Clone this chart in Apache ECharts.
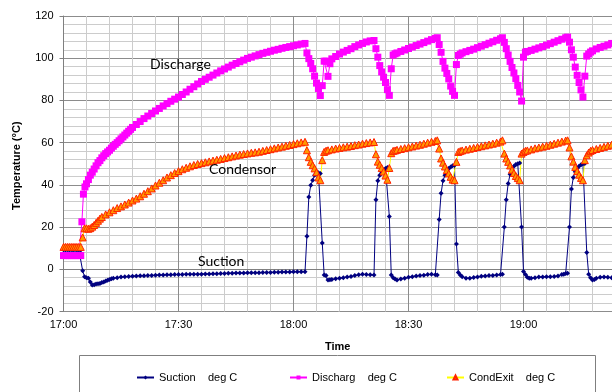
<!DOCTYPE html>
<html>
	<head>
		<meta charset="UTF-8" />
		<title>Compressor temperatures</title>
		<style>
			html, body { margin: 0; padding: 0; background: #fff; }
			#chart { width: 612px; height: 392px; }
		</style>
	</head>
	<body>
		<div id="chart"></div>
		<script type="text/javascript" src="https://cdn.jsdelivr.net/npm/echarts@6/dist/echarts.min.js"></script>
		<script type="text/javascript">
			// time in minutes after 17:00, temperature in deg C
			const suction = [
				[0,9.2],[0.5,9.1],[1,9.2],[1.5,9.1],[2,9.2],[2.5,9.1],[3,9.2],[3.5,9.1],[4,9.2],[4.5,9.1],
				[5,-0.7],[5.5,-3.5],[6,-4],[6.5,-4.3],[7,-6],[7.5,-7.5],[8,-7.3],[8.5,-7],[9,-6.9],[9.5,-6.7],[10,-6.3],[10.5,-6],[11,-5.6],[11.5,-5.2],[12,-4.8],[12.5,-4.5],[13,-4.3],[14,-4],[15,-3.7],[16,-3.5],[17,-3.4],[18,-3.3],[19,-3.2],[20,-3.1],[21,-3.1],[22,-2.9],[23,-2.9],[24,-2.8],[25,-2.7],[26,-2.7],[27,-2.6],[28,-2.6],[29,-2.5],[30,-2.5],[31,-2.5],[32,-2.4],[33,-2.4],[34,-2.4],[35,-2.3],[36,-2.3],[37,-2.2],[38,-2.2],[39,-2.1],[40,-2.1],[41,-2],[42,-2],[43,-1.9],[44,-1.9],[45,-1.8],[46,-1.8],[47,-1.8],[48,-1.7],[49,-1.7],[50,-1.6],[51,-1.6],[52,-1.5],[53,-1.5],[54,-1.5],[55,-1.4],[56,-1.4],[57,-1.3],[58,-1.3],[59,-1.3],[60,-1.2],[61,-1.2],[62,-1.2],[63,-1.2],
				[63.5,15.7],[64,34.3],[64.5,39.8],[65,42.2],[65.5,44.6],[66,45.2],[66.5,45.7],[67,45.4],[67.5,12.5],[68,-2.7],[68.5,-3],[69,-5.1],[69.5,-5],[70,-4.8],[71,-4.5],[72,-4.2],[73,-4],[74,-3.6],[75,-3.4],[76,-3],[77,-2.6],[78,-2.4],[79,-2.5],[80,-2.6],[81,-2.7],
				[81.5,33],[82,42],[82.5,44.5],[83,46.1],[83.5,47],[84,47.7],[84.5,48.2],[85,25],[85.5,-2.7],[86,-4],[86.5,-4.6],[87,-5.1],[88,-4.6],[89,-4.2],[90,-3.8],[91,-3.5],[92,-3.2],[93,-3],[94,-2.8],[95,-2.5],[96,-2.4],[97,-2.6],[97.5,-2.7],
				[98,23.6],[98.5,36],[99,42],[99.5,44.5],[100,46.9],[100.5,47.8],[101,48.5],[101.5,49],[102,49.3],[102.5,12],[103,-1.5],[103.5,-2.7],[104,-3.5],[105,-4.3],[106,-4.2],[107,-3.9],[108,-3.6],[109,-3.3],[110,-3.2],[111,-3],[112,-2.9],[113,-2.7],[114,-2.5],[114.5,-2.4],
				[115,20],[115.5,33],[116,40.6],[116.5,45],[117,47.5],[117.5,48.8],[118,49.6],[118.5,50],[119,50.4],[119.5,20],[120,-1],[120.5,-2.5],[121,-3.8],[121.5,-4.3],[122,-4.3],[123,-4],[124,-3.7],[125,-3.6],[126,-3.5],[127,-3.5],[128,-3.4],[129,-3.2],[130,-2.5],[130.5,-2.3],[131,-2],[131.5,-1.9],
				[132,20],[132.5,38],[133,43.5],[133.5,46.2],[134,47.8],[134.5,48.8],[135,49.5],[135.5,50],[136,50.1],[136.5,8],[137,-2.3],[137.5,-4],[138,-5.1],[138.5,-4.8],[139,-4.3],[140,-3.8],[141,-3.6],[142,-3.8],[143,-4],[144,-4],[145,-4]
			];
			const discharge = [
				[0,6.5],[0.5,6.5],[1,6.5],[1.5,6.5],[2,6.5],[2.5,6.5],[3,6.5],[3.5,6.5],[4,6.5],[4.5,6.5],
				[4.8,22.5],[5.2,35.6],[5.6,39],[6,40.5],[6.5,42.5],[7,44.6],[7.5,46],[8,47.5],[8.5,49],[9,50.5],[9.5,51.5],[10,52.8],[10.5,53.8],[11,54.8],[11.5,55.6],[12,56.4],[12.5,57.4],[13,58.3],[13.5,59.2],[14,60],[14.5,60.9],[15,61.8],[15.5,62.7],[16,63.6],[16.5,64.5],[17,65.4],[17.5,66.3],[18,67.2],[19,68.6],[20,70],[21,71.4],[22,72.6],[23,73.8],[24,75],[25,76.2],[26,77.4],[27,78.5],[28,79.6],[29,80.6],[30,81.6],[31,82.8],[32,84],[33,85.3],[34,86.5],[35,87.8],[36,89],[37,90],[38,91],[39,92],[40,93],[41,94],[42,94.9],[43,95.8],[44,96.7],[45,97.5],[46,98.3],[47,99.1],[48,99.9],[49,100.5],[50,101.1],[51,101.7],[52,102.3],[53,102.8],[54,103.3],[55,103.8],[56,104.2],[57,104.7],[58,105.1],[59,105.5],[60,105.9],[61,106.3],[62,106.7],[63,107],
				[63.5,102.5],[64,99.8],[64.5,97.5],[65,95],[65.5,91.5],[66,88.2],[66.5,85.6],[67,82.3],[67.5,87],[68,98.6],[68.5,98.6],[69,91.4],[69.5,97.4],[70,99.7],[71,100.8],[72,102],[73,102.9],[74,103.7],[75,104.5],[76,105.5],[77,106.3],[78,107],[79,107.7],[80,108.2],[81,108.4],
				[81.5,104.5],[82,100.5],[82.5,96.5],[83,93.5],[83.5,91],[84,88.5],[84.5,85.1],[85,82.4],[85.5,95],[86,101.5],[86.5,102.1],[87,102.5],[88,103.2],[89,103.9],[90,104.6],[91,105.3],[92,106],[93,106.7],[94,107.4],[95,108.1],[96,108.8],[97,109.4],[97.5,109.7],
				[98,106.5],[98.5,102.8],[99,98.5],[99.5,95.3],[100,92.8],[100.5,90.2],[101,86.8],[101.5,84.3],[102,82.4],[102.5,97],[103,101.3],[103.5,101.9],[104,102.5],[105,103.1],[106,103.7],[107,104.3],[108,105],[109,105.7],[110,106.4],[111,107.1],[112,107.8],[113,108.5],[114,109.2],[114.5,109.7],
				[115,107.5],[115.5,104.5],[116,101.5],[116.5,98.5],[117,95.6],[117.5,93],[118,90.3],[118.5,87.1],[119,84],[119.5,79.7],[120,100.5],[120.5,102.9],[121,103.2],[122,103.7],[123,104.3],[124,104.9],[125,105.5],[126,106.2],[127,106.9],[128,107.6],[129,108.3],[130,109],[131,109.7],[131.5,110],
				[132,107.6],[132.5,104],[133,100.5],[133.5,95.8],[134,91.9],[134.5,88.5],[135,85],[135.5,81.6],[136,91.5],[136.5,101],[137,102],[137.5,102.9],[138,103.5],[139,104.4],[140,105.1],[141,105.7],[142,106.3],[143,107],[144,107.5],[145,108]
			];
			const condExit = [
				[0,10.6],[0.5,10.6],[1,10.6],[1.5,10.6],[2,10.6],[2.5,10.6],[3,10.6],[3.5,10.6],[4,10.6],[4.5,10.6],
				[5,15.1],[5.5,19.4],[6,19.4],[6.5,19.2],[7,19.5],[7.5,20.2],[8,21],[8.5,22],[9,23],[9.5,24],[10,24.8],[11,26],[12,27],[13,28],[14,29],[15,29.8],[16,30.7],[17,31.6],[18,32.6],[19,33.5],[20,34.6],[21,35.8],[22,37],[23,38.3],[24,39.7],[25,41],[26,42.2],[27,43.5],[28,44.6],[29,45.6],[30,46.5],[31,47.4],[32,48.1],[33,48.8],[34,49.4],[35,49.9],[36,50.3],[37,50.7],[38,51.1],[39,51.5],[40,51.9],[41,52.3],[42,52.7],[43,53.1],[44,53.5],[45,53.9],[46,54.3],[47,54.6],[48,54.9],[49,55.2],[50,55.4],[51,55.7],[52,56.1],[53,56.5],[54,56.9],[55,57.3],[56,57.7],[57,58.1],[58,58.5],[59,58.9],[60,59.3],[61,59.7],[62,60.1],[63,60.4],
				[63.5,56.4],[64,53.1],[64.5,50.9],[65,49.3],[65.5,47.8],[66,46],[66.5,43.5],[67,42.2],[67.5,51.7],[68,55.6],[68.5,56.2],[69,56.4],[70,56.8],[71,57.2],[72,57.5],[73,57.8],[74,58.1],[75,58.4],[76,58.8],[77,59.1],[78,59.5],[79,59.8],[80,60.1],[81,60.3],
				[81.5,54.5],[82,51],[82.5,49.5],[83,48],[83.5,46.3],[84,44.4],[84.5,42.4],[85,48],[85.5,55],[86,56.1],[86.5,56.3],[87,56.6],[88,57],[89,57.4],[90,57.8],[91,58.2],[92,58.6],[93,59],[94,59.5],[95,60],[96,60.4],[97,60.8],[97.5,61.1],
				[98,57.2],[98.5,52.5],[99,50.5],[99.5,48.7],[100,47],[100.5,45.4],[101,43.8],[101.5,42.5],[102,42.2],[102.5,50.9],[103,55.6],[103.5,56],[104,56.3],[105,56.7],[106,57.1],[107,57.5],[108,57.9],[109,58.3],[110,58.7],[111,59.1],[112,59.5],[113,60],[114,60.5],[114.5,61.1],
				[115,54.8],[115.5,52.5],[116,50.9],[116.5,49.2],[117,47.2],[117.5,45.6],[118,44.2],[118.5,43.2],[119,42.2],[119.5,54.8],[120,55.6],[120.5,56.1],[121,56.3],[122,56.8],[123,57.3],[124,57.7],[125,58.1],[126,58.5],[127,59],[128,59.5],[129,60],[130,60.5],[131,61],[131.5,61.1],
				[132,57.7],[132.5,53.5],[133,51],[133.5,48.5],[134,46.5],[134.5,44.8],[135,43.3],[135.5,42.2],[136,51.7],[136.5,54],[137,55.3],[137.5,56.1],[138,56.5],[139,57],[140,57.5],[141,58],[142,58.5],[143,59],[144,59.4],[145,59.8]
			];
			const seriesNames = ['Suction    deg C', 'Discharg    deg C', 'CondExit    deg C'];

			const font = '"Liberation Sans", Arial, sans-serif';
			const noteFont = '14px Lato, "Open Sans", sans-serif';
			const majorGrid = '#8c8c8c';
			const minorGrid = '#cccccc';

			// minutes after 17:00 -> "hh:mm"
			function timeLabel(v) {
				const h = 17 + Math.floor(v / 60);
				const m = Math.round(v % 60);
				return h + ':' + (m < 10 ? '0' : '') + m;
			}

			const chart = echarts.init(document.getElementById('chart'));
			const opt = {
				animation: false,
				backgroundColor: '#fff',
				textStyle: { fontFamily: font },
				// plot runs past the right edge of the picture (19:30 is off-canvas)
				grid: { left: 63.5, right: -26.5, top: 16, bottom: 80.5, containLabel: false, outerBoundsMode: 'none' },
				xAxis: {
					type: 'value', min: 0, max: 150, interval: 30,
					axisLine: { lineStyle: { color: '#7f7f7f', width: 1 } },
					axisTick: { show: true, length: 4, inside: false, lineStyle: { color: '#7f7f7f' } },
					axisLabel: { color: '#000', fontSize: 11, margin: 8, formatter: timeLabel },
					splitLine: { show: true, lineStyle: { color: majorGrid, width: 1 } },
					minorTick: { show: false, splitNumber: 5 },
					minorSplitLine: { show: true, lineStyle: { color: minorGrid, width: 1 } }
				},
				yAxis: {
					type: 'value', min: -20, max: 120, interval: 20,
					axisLine: { show: true, lineStyle: { color: '#7f7f7f', width: 1 } },
					axisTick: { show: true, length: 4, inside: false, lineStyle: { color: '#7f7f7f' } },
					axisLabel: { color: '#000', fontSize: 11, margin: 10 },
					splitLine: { show: true, lineStyle: { color: majorGrid, width: 1 } },
					minorTick: { show: false, splitNumber: 5 },
					minorSplitLine: { show: true, lineStyle: { color: minorGrid, width: 1 } }
				},
				legend: [0, 1, 2].map(function(i) {
					return {
						data: [seriesNames[i]],
						left: [131, 284, 441][i], top: 367,
						itemWidth: 17, itemHeight: 5, itemGap: 5,
						textStyle: { color: '#000', fontSize: 11, fontFamily: font }
					};
				}),
				series: [{
					name: seriesNames[0], type: 'line', data: suction,
					symbol: 'diamond', symbolSize: 5, showAllSymbol: true,
					lineStyle: { color: '#000080', width: 1 },
					itemStyle: { color: '#000080' }
				}, {
					name: seriesNames[1], type: 'line', data: discharge,
					symbol: 'rect', symbolSize: 7, showAllSymbol: true,
					lineStyle: { color: '#ff00ff', width: 1 },
					itemStyle: { color: '#ff00ff' }
				}, {
					name: seriesNames[2], type: 'line', data: condExit,
					symbol: 'triangle', symbolSize: 7, showAllSymbol: true,
					lineStyle: { color: '#ffff00', width: 1 },
					itemStyle: { color: '#ff9900', borderColor: '#ff2200', borderWidth: 1 }
				}],
				graphic: [
					// legend frame (runs past the bottom edge)
					{ type: 'rect', z: 100, shape: { x: 79.5, y: 355.5, width: 516, height: 60 }, style: { fill: 'none', stroke: '#7f7f7f', lineWidth: 1 }, silent: true },
					{ type: 'text', z: 100, left: 325, top: 341, style: { text: 'Time', fill: '#000', font: 'bold 11px ' + font } },
					{ type: 'text', z: 100, x: 11, y: 210, rotation: Math.PI / 2, style: { text: 'Temperature (°C)', fill: '#000', font: 'bold 11px ' + font } },
					{ type: 'text', z: 100, left: 150, top: 57, style: { text: 'Discharge', fill: '#000', font: noteFont } },
					{ type: 'text', z: 100, left: 209, top: 162, style: { text: 'Condensor', fill: '#000', font: noteFont } },
					{ type: 'text', z: 100, left: 198, top: 254, style: { text: 'Suction', fill: '#000', font: noteFont } }
				]
			};
			chart.setOption(opt);
		</script>
	</body>
</html>
